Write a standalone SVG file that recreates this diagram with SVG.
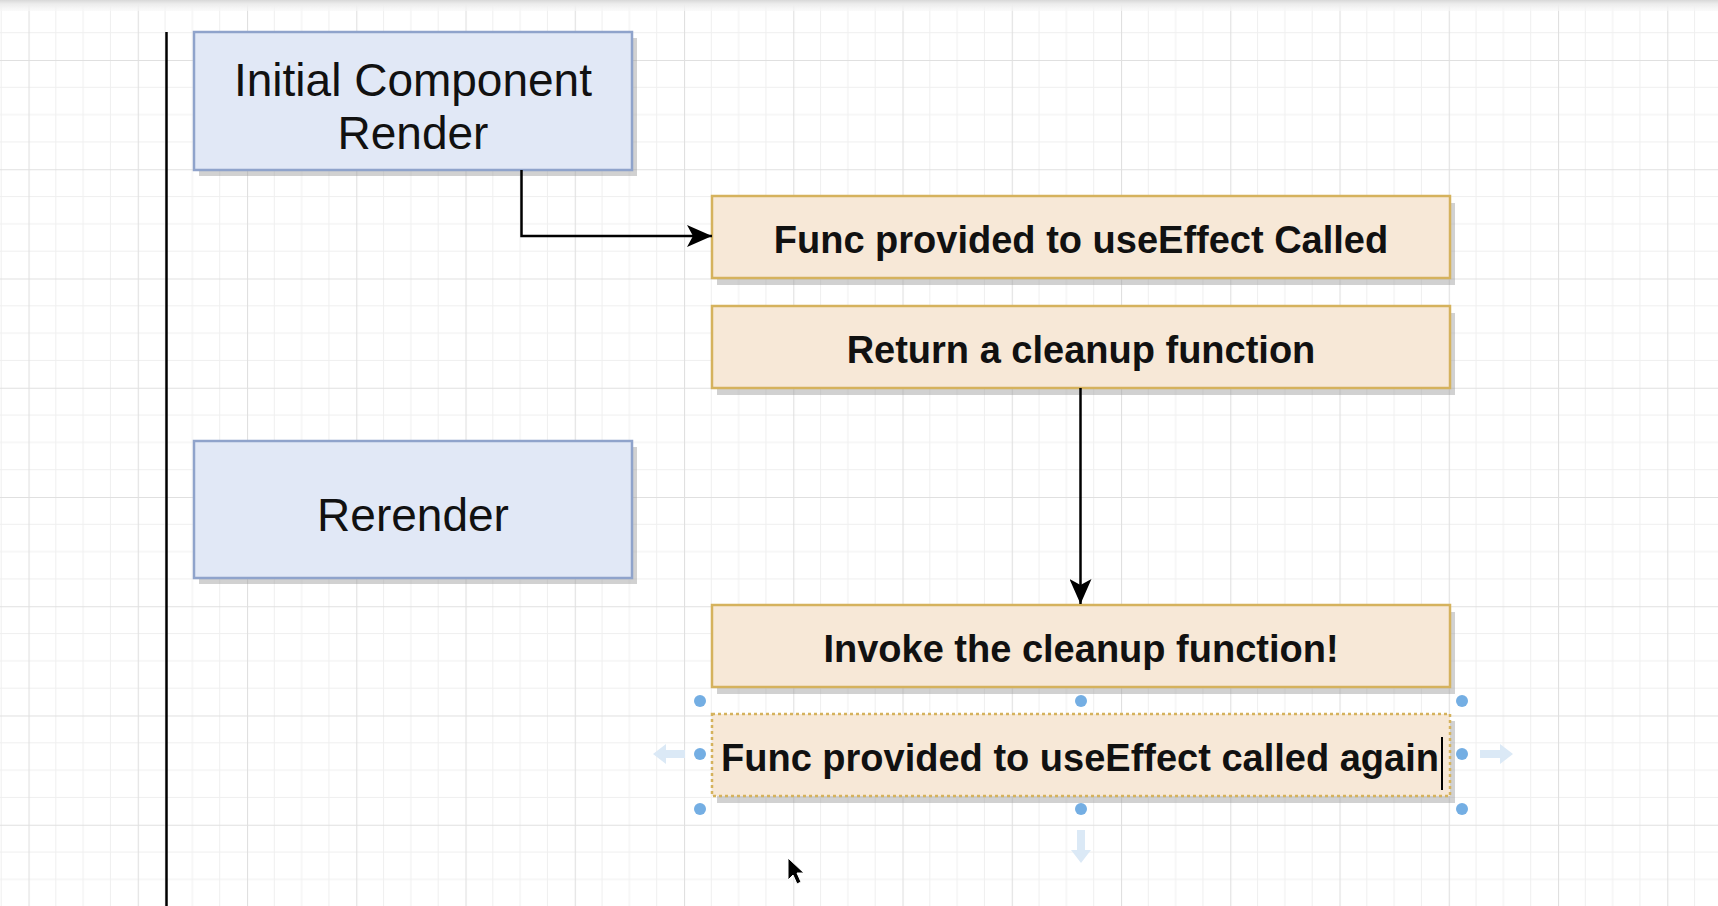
<svg xmlns="http://www.w3.org/2000/svg" width="1718" height="906" viewBox="0 0 1718 906">
<defs>
<pattern id="grid" patternUnits="userSpaceOnUse" x="28.5" y="-49.25" width="109.25" height="109.25">
<path d="M27.31,0V109.25M54.62,0V109.25M81.94,0V109.25M0,27.31H109.25M0,54.62H109.25M0,81.94H109.25" stroke="#efefef" stroke-width="1" fill="none"/>
<path d="M0.5,0V109.25M0,0.5H109.25" stroke="#e0e0e0" stroke-width="1.2" fill="none"/>
</pattern>
<linearGradient id="topband" x1="0" y1="0" x2="0" y2="1">
<stop offset="0" stop-color="#d8d8d8"/>
<stop offset="0.35" stop-color="#ececec"/>
<stop offset="1" stop-color="#f7f7f7" stop-opacity="0.6"/>
</linearGradient>
<marker id="arrow" markerUnits="userSpaceOnUse" viewBox="0 0 25 22" refX="25" refY="11" markerWidth="25" markerHeight="22" orient="auto">
<path d="M0,0L25,11L0,22L6,11Z" fill="#000"/>
</marker>
<style>
.shadow{fill:#9a9a9a;opacity:0.45}
.blue{fill:#e1e8f6;stroke:#8fa3cb;stroke-width:2.5}
.orange{fill:#f7e8d7;stroke:#d5b25d;stroke-width:2.5}
.sel{fill:#f7e8d7;stroke:#d5b25d;stroke-width:2.5;stroke-dasharray:3 3}
.reg{font-family:"Liberation Sans",Arial,sans-serif;font-size:46px;fill:#111;text-anchor:middle}
.bold{font-family:"Liberation Sans",Arial,sans-serif;font-size:38px;font-weight:bold;fill:#111;text-anchor:middle}
.conn{fill:none;stroke:#000;stroke-width:2.5}
.handle{fill:#74aee3}
.hover{fill:#dbe9f6}
</style>
</defs>
<rect x="0" y="0" width="1718" height="906" fill="#ffffff"/>
<rect x="0" y="0" width="1718" height="906" fill="url(#grid)"/>
<rect x="0" y="0" width="1718" height="11" fill="url(#topband)"/>
<line x1="166.5" y1="32" x2="166.5" y2="906" stroke="#000" stroke-width="2.5"/>

<g id="initial-render">
<rect class="shadow" x="199" y="38" width="438" height="138"/>
<rect class="blue" x="194" y="32" width="438" height="138"/>
<text class="reg" x="413" y="96">Initial Component</text>
<text class="reg" x="413" y="149">Render</text>
</g>

<g id="rerender">
<rect class="shadow" x="199" y="447" width="438" height="137"/>
<rect class="blue" x="194" y="441" width="438" height="137"/>
<text class="reg" x="413" y="531">Rerender</text>
</g>

<g id="func-called">
<rect class="shadow" x="717" y="203" width="738" height="82"/>
<rect class="orange" x="712" y="196" width="738" height="82"/>
<text class="bold" x="1081" y="253">Func provided to useEffect Called</text>
</g>

<g id="return-cleanup">
<rect class="shadow" x="717" y="313" width="738" height="82"/>
<rect class="orange" x="712" y="306" width="738" height="82"/>
<text class="bold" x="1081" y="363">Return a cleanup function</text>
</g>

<g id="invoke-cleanup">
<rect class="shadow" x="717" y="612" width="738" height="82"/>
<rect class="orange" x="712" y="605" width="738" height="82"/>
<text class="bold" x="1081" y="662">Invoke the cleanup function!</text>
</g>

<g id="func-again">
<rect class="shadow" x="717" y="721" width="738" height="82"/>
<rect class="sel" x="712" y="714" width="738" height="82"/>
<text class="bold" x="1080" y="771">Func provided to useEffect called again</text>
<line x1="1442" y1="737" x2="1442" y2="790" stroke="#000" stroke-width="2"/>
</g>

<g id="connectors">
<path class="conn" d="M521.5,170V236H712" marker-end="url(#arrow)"/>
<path class="conn" d="M1080.5,388V604" marker-end="url(#arrow)"/>
</g>

<g id="selection-handles">
<circle class="handle" cx="700" cy="701" r="6"/>
<circle class="handle" cx="1081" cy="701" r="6"/>
<circle class="handle" cx="1462" cy="701" r="6"/>
<circle class="handle" cx="700" cy="754" r="6"/>
<circle class="handle" cx="1462" cy="754" r="6"/>
<circle class="handle" cx="700" cy="809" r="6"/>
<circle class="handle" cx="1081" cy="809" r="6"/>
<circle class="handle" cx="1462" cy="809" r="6"/>
<polygon class="hover" points="653,754 666,744 666,750 685,750 685,758 666,758 666,764"/>
<polygon class="hover" points="1513,754 1500,744 1500,750 1480,750 1480,758 1500,758 1500,764"/>
<polygon class="hover" points="1081,863 1071,850 1077,850 1077,830 1085,830 1085,850 1091,850"/>
</g>

<g id="mouse-cursor">
<polygon points="788,858 788,880 793,875 797,884 801,882 797,873 804,873" fill="#000" stroke="#fff" stroke-width="1"/>
</g>
</svg>
